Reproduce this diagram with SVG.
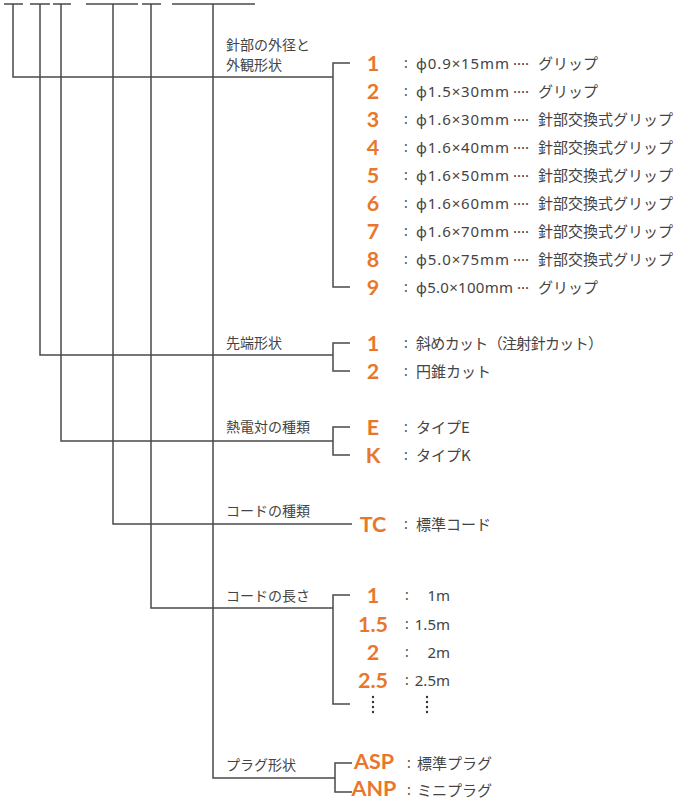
<svg xmlns="http://www.w3.org/2000/svg" width="688" height="801" viewBox="0 0 688 801">
<style>
.ln{fill:none;stroke:#4a4a4a;stroke-width:1.5}
.lb{font-family:"Noto Sans CJK JP","Noto Sans",sans-serif;font-size:14px;fill:#444}
.num{font-family:Lato,"Open Sans",sans-serif;font-weight:bold;font-size:21.5px;fill:#e8772c;text-anchor:middle}
.la{font-family:"Noto Sans","Noto Sans CJK JP",sans-serif;font-size:15px;fill:#444}
.jp{font-family:"Noto Sans CJK JP","Noto Sans",sans-serif;font-size:15px;fill:#444}
.co{font-family:"Noto Sans","Noto Sans CJK JP",sans-serif;font-size:14px;fill:#444;text-anchor:middle}
.dot{fill:#333}
</style>
<rect width="688" height="801" fill="#fff"/>
<g id="connectors">
<path class="ln" d="M4 4H23M30 4H50M53 4H71M86 4H138M142 4H161M172 4H255"/>
<path class="ln" d="M13 4V77H333M40 4V355H333M61 4V441H333M113 4V524H352M151 4V608H333M213 4V778H335"/>
<path class="ln" d="M350 63H333V287H350"/>
<path class="ln" d="M350 343H333V371H350"/>
<path class="ln" d="M350 427H333V455H350"/>
<path class="ln" d="M350 595H333V704H350"/>
<path class="ln" d="M352 763H335V792H352"/>
</g>
<g id="g1">
<text class="lb" x="226" y="50">針部の外径と</text>
<text class="lb" x="226" y="70">外観形状</text>
<text class="num" x="373" y="71">1</text>
<text class="num" x="373" y="99">2</text>
<text class="num" x="373" y="127">3</text>
<text class="num" x="373" y="155">4</text>
<text class="num" x="373" y="183">5</text>
<text class="num" x="373" y="211">6</text>
<text class="num" x="373" y="239">7</text>
<text class="num" x="373" y="267">8</text>
<text class="num" x="373" y="295">9</text>
<g class="co"><text x="406" y="68">:</text><text x="406" y="96">:</text><text x="406" y="124">:</text><text x="406" y="152">:</text><text x="406" y="180">:</text><text x="406" y="208">:</text><text x="406" y="236">:</text><text x="406" y="264">:</text><text x="406" y="292">:</text></g>
<g class="la">
<text x="416" y="69" textLength="93" lengthAdjust="spacing">φ0.9×15mm</text>
<text x="416" y="97" textLength="93" lengthAdjust="spacing">φ1.5×30mm</text>
<text x="416" y="125" textLength="93" lengthAdjust="spacing">φ1.6×30mm</text>
<text x="416" y="153" textLength="93" lengthAdjust="spacing">φ1.6×40mm</text>
<text x="416" y="181" textLength="93" lengthAdjust="spacing">φ1.6×50mm</text>
<text x="416" y="209" textLength="93" lengthAdjust="spacing">φ1.6×60mm</text>
<text x="416" y="237" textLength="93" lengthAdjust="spacing">φ1.6×70mm</text>
<text x="416" y="265" textLength="93" lengthAdjust="spacing">φ5.0×75mm</text>
<text x="416" y="293" textLength="97" lengthAdjust="spacing">φ5.0×100mm</text>
<text x="513" y="69">····</text>
<text x="513" y="97">····</text>
<text x="513" y="125">····</text>
<text x="513" y="153">····</text>
<text x="513" y="181">····</text>
<text x="513" y="209">····</text>
<text x="513" y="237">····</text>
<text x="513" y="265">····</text>
<text x="517" y="293">···</text>
</g>
<g class="jp">
<text x="538" y="69">グリップ</text>
<text x="538" y="97">グリップ</text>
<text x="538" y="125">針部交換式グリップ</text>
<text x="538" y="153">針部交換式グリップ</text>
<text x="538" y="181">針部交換式グリップ</text>
<text x="538" y="209">針部交換式グリップ</text>
<text x="538" y="237">針部交換式グリップ</text>
<text x="538" y="265">針部交換式グリップ</text>
<text x="538" y="293">グリップ</text>
</g>
</g>
<g id="g2">
<text class="lb" x="226" y="348">先端形状</text>
<text class="num" x="373" y="351">1</text>
<text class="num" x="373" y="379">2</text>
<g class="co"><text x="406" y="348">:</text><text x="406" y="376">:</text></g>
<text class="jp" x="416" y="349" textLength="187" lengthAdjust="spacing">斜めカット（注射針カット）</text>
<text class="jp" x="416" y="377">円錐カット</text>
</g>
<g id="g3">
<text class="lb" x="226" y="432">熱電対の種類</text>
<text class="num" x="373" y="435">E</text>
<text class="num" x="373" y="463">K</text>
<g class="co"><text x="406" y="432">:</text><text x="406" y="460">:</text></g>
<text class="jp" x="416" y="433">タイプE</text>
<text class="jp" x="416" y="461">タイプK</text>
</g>
<g id="g4">
<text class="lb" x="226" y="516">コードの種類</text>
<text class="num" x="373" y="532">TC</text>
<text class="co" x="406" y="529">:</text>
<text class="jp" x="416" y="530">標準コード</text>
</g>
<g id="g5">
<text class="lb" x="226" y="601">コードの長さ</text>
<text class="num" x="373" y="603">1</text>
<text class="num" x="373" y="632">1.5</text>
<text class="num" x="373" y="660">2</text>
<text class="num" x="373" y="688">2.5</text>
<g class="co"><text x="407" y="600">:</text><text x="407" y="629">:</text><text x="407" y="657">:</text><text x="407" y="685">:</text></g>
<g class="la" text-anchor="end">
<text x="450" y="601">1m</text>
<text x="450" y="630">1.5m</text>
<text x="450" y="658">2m</text>
<text x="450" y="686">2.5m</text>
</g>
<g class="dot"><circle cx="373" cy="697" r="1.2"/><circle cx="373" cy="702" r="1.2"/><circle cx="373" cy="707" r="1.2"/><circle cx="373" cy="712" r="1.2"/><circle cx="427" cy="697" r="1.2"/><circle cx="427" cy="702" r="1.2"/><circle cx="427" cy="707" r="1.2"/><circle cx="427" cy="712" r="1.2"/></g>
</g>
<g id="g6">
<text class="lb" x="226" y="770">プラグ形状</text>
<text class="num" x="374" y="769">ASP</text>
<text class="num" x="374" y="796">ANP</text>
<g class="co"><text x="409" y="768">:</text><text x="409" y="795">:</text></g>
<text class="jp" x="417" y="769">標準プラグ</text>
<text class="jp" x="417" y="796">ミニプラグ</text>
</g>
</svg>
